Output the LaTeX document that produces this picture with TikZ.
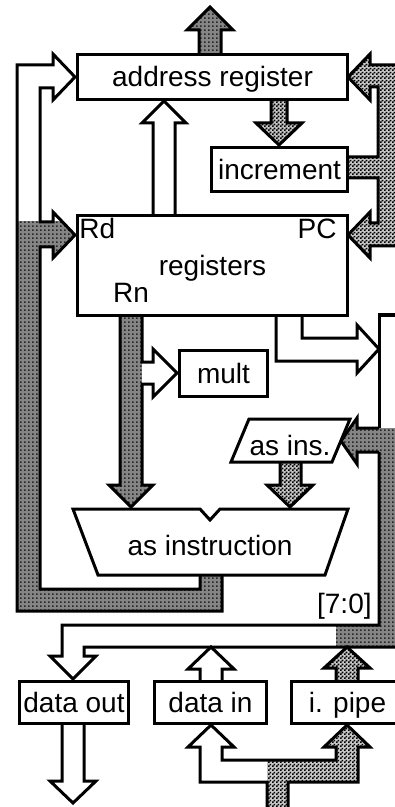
\documentclass[tikz,border=0pt]{standalone}
\usepackage{fontspec}
\setmainfont{Liberation Sans}
\usetikzlibrary{patterns}

\pgfdeclarepatternformonly{checker}{\pgfqpoint{0pt}{0pt}}{\pgfqpoint{2pt}{2pt}}{\pgfqpoint{2pt}{2pt}}{%
  \pgfpathrectangle{\pgfqpoint{0pt}{0pt}}{\pgfqpoint{1pt}{1pt}}%
  \pgfpathrectangle{\pgfqpoint{1pt}{1pt}}{\pgfqpoint{1pt}{1pt}}%
  \pgfusepath{fill}}
\pgfdeclarepatternformonly{greydots}{\pgfqpoint{0pt}{0pt}}{\pgfqpoint{2pt}{2pt}}{\pgfqpoint{2pt}{2pt}}{%
  \pgfpathrectangle{\pgfqpoint{0pt}{0pt}}{\pgfqpoint{1pt}{1pt}}%
  \pgfusepath{fill}}

\tikzset{
  box/.style={draw, fill=white, line width=1.5pt, inner sep=0pt, text height=11pt, text depth=1pt},
  bus/.style={line width=1.5pt, line join=miter},
  whitebus/.style={fill=white},
  greybus/.style={preaction={fill=black!48}, pattern=greydots, pattern color=black!85},
  checkbus/.style={preaction={fill=black!22}, pattern=checker, pattern color=black},
  lbl/.style={inner sep=0pt},
}

% bus outlines used more than once
\newcommand{\resultloop}{(222,574) -- (222,611) -- (17,611) -- (17,65) -- (53,65) -- (53,54) -- (75,77) -- (53,100) -- (53,88) -- (40,88) -- (40,222) -- (53,222) -- (53,212) -- (75,235) -- (53,258) -- (53,247) -- (40,247) -- (40,589) -- (200,589) -- (200,574)}
\newcommand{\rnbus}{(142,317) -- (142,362) -- (153,362) -- (153,349) -- (177,373) -- (153,397) -- (153,384) -- (142,384) -- (142,485) -- (153,485) -- (131,507) -- (109,485) -- (120,485) -- (120,317)}
\newcommand{\outchan}{(379,452) -- (379,625) -- (62,625) -- (62,656) -- (50,656) -- (73,679) -- (96,656) -- (84,656) -- (84,647) -- (410,647)}
\newcommand{\membus}{(267,810) -- (267,782) -- (200,782) -- (200,747) -- (188,747) -- (211,725) -- (234,747) -- (222,747) -- (222,760) -- (336,760) -- (336,747) -- (324,747) -- (347,725) -- (370,747) -- (358,747) -- (358,782) -- (288,782) -- (288,810)}

\begin{document}
\begin{tikzpicture}[x=0.5pt, y=-0.5pt, font=\fontsize{14}{16}\selectfont]
  \useasboundingbox (0,0) rectangle (395,807);
  \clip (0,0) rectangle (395,807);

  % result bus round the left side
  \fill[whitebus] \resultloop -- cycle;
  \begin{scope}
    \clip (0,222) rectangle (395,807);
    \fill[greybus] \resultloop -- cycle;
  \end{scope}
  \draw[bus] \resultloop;

  % Rn bus, mult branch left white
  \fill[greybus] \rnbus -- cycle;
  \begin{scope}
    \clip (142,300) rectangle (200,420);
    \fill[whitebus] \rnbus -- cycle;
  \end{scope}
  \draw[bus] \rnbus;

  % registers to shifter
  \draw[bus, whitebus] (276,317) -- (276,361) -- (357,361) -- (357,373) -- (379,349) -- (357,325) -- (357,338) -- (302,338) -- (302,317);

  % right channel down to data out
  \fill[whitebus] \outchan -- (410,315) -- (379,315) -- cycle;
  \fill[greybus] (379,428) rectangle (410,646) (336,626) rectangle (410,646);
  \draw[bus, greybus] (379,428) -- (357,428) -- (357,418) -- (341,441) -- (357,464) -- (357,452) -- (379,452);
  \draw[bus] \outchan;
  \draw[bus] (379,428) -- (379,315) -- (410,315);

  % memory input bus
  \fill[whitebus] \membus -- cycle;
  \begin{scope}
    \clip (267,700) rectangle (395,810);
    \fill[checkbus] \membus -- cycle;
  \end{scope}
  \draw[bus] \membus;

  % short arrows
  \draw[bus, greybus] (199,55) -- (199,30) -- (187,30) -- (210,7) -- (233,30) -- (221,30) -- (221,55);
  \draw[bus, whitebus] (153,216) -- (153,123) -- (142,123) -- (164,101) -- (186,123) -- (175,123) -- (175,216);
  \draw[bus, checkbus] (271,99) -- (271,123) -- (256,123) -- (279,145) -- (302,123) -- (287,123) -- (287,99);
  \draw[bus, checkbus] (345,157) -- (378,157) -- (378,87) -- (370,87) -- (370,100) -- (348,77) -- (370,54) -- (370,65) -- (410,65) -- (410,246) -- (370,246) -- (370,258) -- (348,235) -- (370,212) -- (370,223) -- (378,223) -- (378,178) -- (345,178);
  \draw[bus, checkbus] (280,462) -- (280,485) -- (267,485) -- (290,507) -- (313,485) -- (301,485) -- (301,462);
  \draw[bus, whitebus] (200,682) -- (200,669) -- (188,669) -- (211,647) -- (234,669) -- (222,669) -- (222,682);
  \draw[bus, checkbus] (336,682) -- (336,668) -- (324,668) -- (347,647) -- (370,668) -- (358,668) -- (358,682);
  \draw[bus, whitebus] (62,723) -- (62,781) -- (50,781) -- (73,803) -- (96,781) -- (84,781) -- (84,723);

  % boxes
  \node[box, minimum width=135pt, minimum height=22.5pt] (areg) at (212.5,77) {address register};
  \node[box, minimum width=68pt, minimum height=22pt] (incr) at (279.5,169.5) {increment};
  \node[box, minimum width=135pt, minimum height=50pt] (regs) at (212.5,265.5) {registers};
  \node[box, minimum width=44pt, minimum height=23pt] (mult) at (223.5,373.5) {mult};
  \node[box, minimum width=54.5pt, minimum height=21pt] (dout) at (74,702.5) {data out};
  \node[box, minimum width=56pt, minimum height=21pt] (din) at (210.5,702.5) {data in};
  \node[box, minimum width=56pt, minimum height=21pt] (ipipe) at (347.5,702.5) {i. pipe};
  \node[lbl, anchor=base west] (rd) at (79,239) {Rd};
  \node[lbl, anchor=base east] (pc) at (337,239) {PC};
  \node[lbl, anchor=base] (rn) at (131,303) {Rn};

  \draw[bus, fill=white] (249,419) -- (350,419) -- (332,462) -- (231,462) -- cycle;
  \node[lbl, anchor=base] (asins) at (290,455) {as ins.};
  \draw[bus, fill=white] (73,509) -- (200,509) -- (210,520) -- (220,509) -- (348,509) -- (325,575) -- (98,575) -- cycle;
  \node[lbl, anchor=base] (alu) at (210,555) {as instruction};
  \node[lbl, anchor=base east] (imm) at (372,613) {[7:0]};
\end{tikzpicture}
\end{document}
